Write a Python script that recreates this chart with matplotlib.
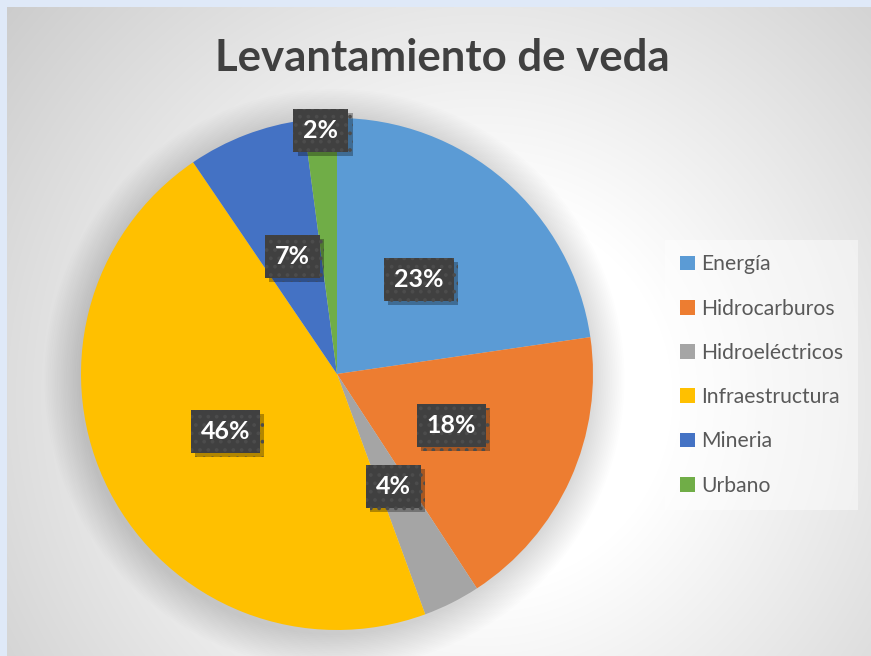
import numpy as np
import matplotlib
matplotlib.use('Agg')
from matplotlib import pyplot as plt
from matplotlib import patheffects as pe
from matplotlib.patches import Circle

plt.rcParams['font.family'] = ['Lato', 'DejaVu Sans']
plt.rcParams['hatch.linewidth'] = 1.5

# data (percent of total)
sectores = ['Energía', 'Hidrocarburos', 'Hidroeléctricos', 'Infraestructura', 'Mineria', 'Urbano']
valores = [22.7, 18.1, 3.6, 46.1, 7.4, 2.1]
colores = ['#5b9bd5', '#ed7d31', '#a5a5a5', '#ffc000', '#4472c4', '#70ad47']

W, H = 871, 656
fig = plt.figure(figsize=(W / 100, H / 100), dpi=100, facecolor='#dfe9f8')

# chart area background: radial gray gradient
bg = fig.add_axes([7 / W, 0, (W - 7) / W, (H - 7) / H])
yy, xx = np.mgrid[0:H - 7, 0:W - 7]
d = np.hypot(xx - 475, yy - 390)
shade = np.clip(1 - (d - 190) / 470, 0, 1)
g = 0.78 + 0.22 * shade
bg.imshow(np.dstack([g, g, g]), aspect='auto', interpolation='bilinear')
bg.set_axis_off()

# pie axes placed so center ~ (337, 374) px, radius 256 px
cx, cy, r = 337, 374, 256
ax = fig.add_axes([(cx - r) / W, (H - cy - r) / H, 2 * r / W, 2 * r / H])
ax.set_facecolor('none')

# soft shadow behind the pie
for i in range(20):
    ax.add_patch(Circle((-0.01, -0.02), 1.0 + 0.007 * i, color='black', alpha=0.007, lw=0,
                        zorder=0, clip_on=False))

wedges, texts, autotexts = ax.pie(valores, colors=colores, startangle=90, counterclock=False,
                                  autopct='%.0f%%', pctdistance=0.49,
                                  wedgeprops=dict(linewidth=0),
                                  textprops=dict(color='white', fontsize=18, fontweight='bold'))

# the small "Urbano" label sits at the rim
w = wedges[-1]
ang = np.deg2rad((w.theta1 + w.theta2) / 2)
autotexts[-1].set_position((0.955 * np.cos(ang), 0.955 * np.sin(ang)))

for t in autotexts:
    t.set_bbox(dict(boxstyle='square,pad=0.4', facecolor='#404040', edgecolor='#4c4c4c',
                    linewidth=0, hatch='..',
                    path_effects=[pe.SimplePatchShadow(offset=(3, -3), alpha=0.3, shadow_rgbFace='black'),
                                  pe.Normal()]))
    t.set_zorder(5)

ax.set_xlim(-1, 1)
ax.set_ylim(-1, 1)

fig.text(442 / W, 1 - 58 / H, 'Levantamiento de veda', ha='center', va='center',
         fontsize=31.5, fontweight='bold', color='#404040')

leg = fig.legend(wedges, sectores, loc='center left', bbox_to_anchor=(665 / W, 1 - 375 / H),
                 frameon=True, fancybox=False, facecolor='white', edgecolor='none', framealpha=0.45,
                 fontsize=15.2, labelcolor='#595959', handlelength=0.7, handleheight=0.7,
                 handletextpad=0.3, labelspacing=1.15, borderpad=0.7, borderaxespad=0)

fig.savefig('out.png', dpi=100, facecolor=fig.get_facecolor())
